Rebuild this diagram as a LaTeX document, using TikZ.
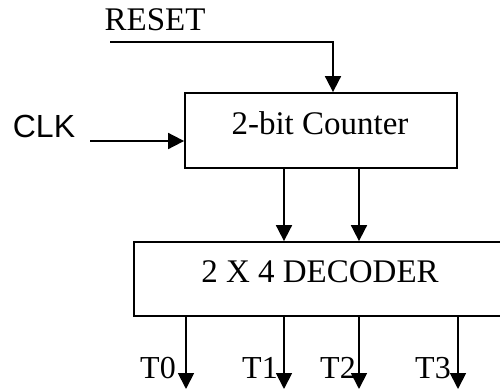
\documentclass[tikz,border=0pt]{standalone}
\usepackage{fontspec}
\setmainfont{Liberation Serif}
\newfontfamily\arialfont{Liberation Sans}
\usetikzlibrary{arrows.meta}
\begin{document}
\begin{tikzpicture}[x=1pt,y=-1pt,
  blk/.style={draw,line width=1.8pt,inner sep=0pt},
  txt/.style={inner sep=0pt,font=\fontsize{33}{33}\selectfont},
  wire/.style={line width=1.8pt},
  arr/.style={wire,-{Triangle[length=16pt,width=16pt]}}]
\clip (0,0) rectangle (500,391);
\fill[white] (0,0) rectangle (500,391);
% blocks
\node[blk,minimum width=272pt,minimum height=75pt] (counter) at (321,130.5) {};
\node[blk,minimum width=426pt,minimum height=74pt] (decoder) at (347,279) {};
% texts
\node[txt] (countertext) at (320,123) {2-bit Counter};
\node[txt] (decodertext) at (320,272) {2 X 4 DECODER};
\node[txt] (reset) at (155,20) {RESET};
\node[txt,font=\arialfont\fontsize{32}{32}\selectfont] (clk) at (44,126) {CLK};
\node[txt,font=\fontsize{32}{32}\selectfont] (t0) at (158,368) {T0};
\node[txt,font=\fontsize{32}{32}\selectfont] (t1) at (260,368) {T1};
\node[txt,font=\fontsize{32}{32}\selectfont] (t2) at (338,368) {T2};
\node[txt,font=\fontsize{32}{32}\selectfont] (t3) at (433,368) {T3};
% connector ends
\coordinate (resetstart) at (110,42);
\coordinate (clkstart) at (90,141);
\coordinate (o0) at (186,389);
\coordinate (o1) at (284,389);
\coordinate (o2) at (359,389);
\coordinate (o3) at (458,389);
% connectors
\draw[arr] (resetstart) -| (counter.north -| 333,0);
\draw[arr] (clkstart) -- (clkstart -| counter.west);
\draw[arr] (counter.south -| 284,0) -- (decoder.north -| 284,0);
\draw[arr] (counter.south -| 359,0) -- (decoder.north -| 359,0);
\draw[arr] (decoder.south -| o0) -- (o0);
\draw[arr] (decoder.south -| o1) -- (o1);
\draw[arr] (decoder.south -| o2) -- (o2);
\draw[arr] (decoder.south -| o3) -- (o3);
\end{tikzpicture}
\end{document}
